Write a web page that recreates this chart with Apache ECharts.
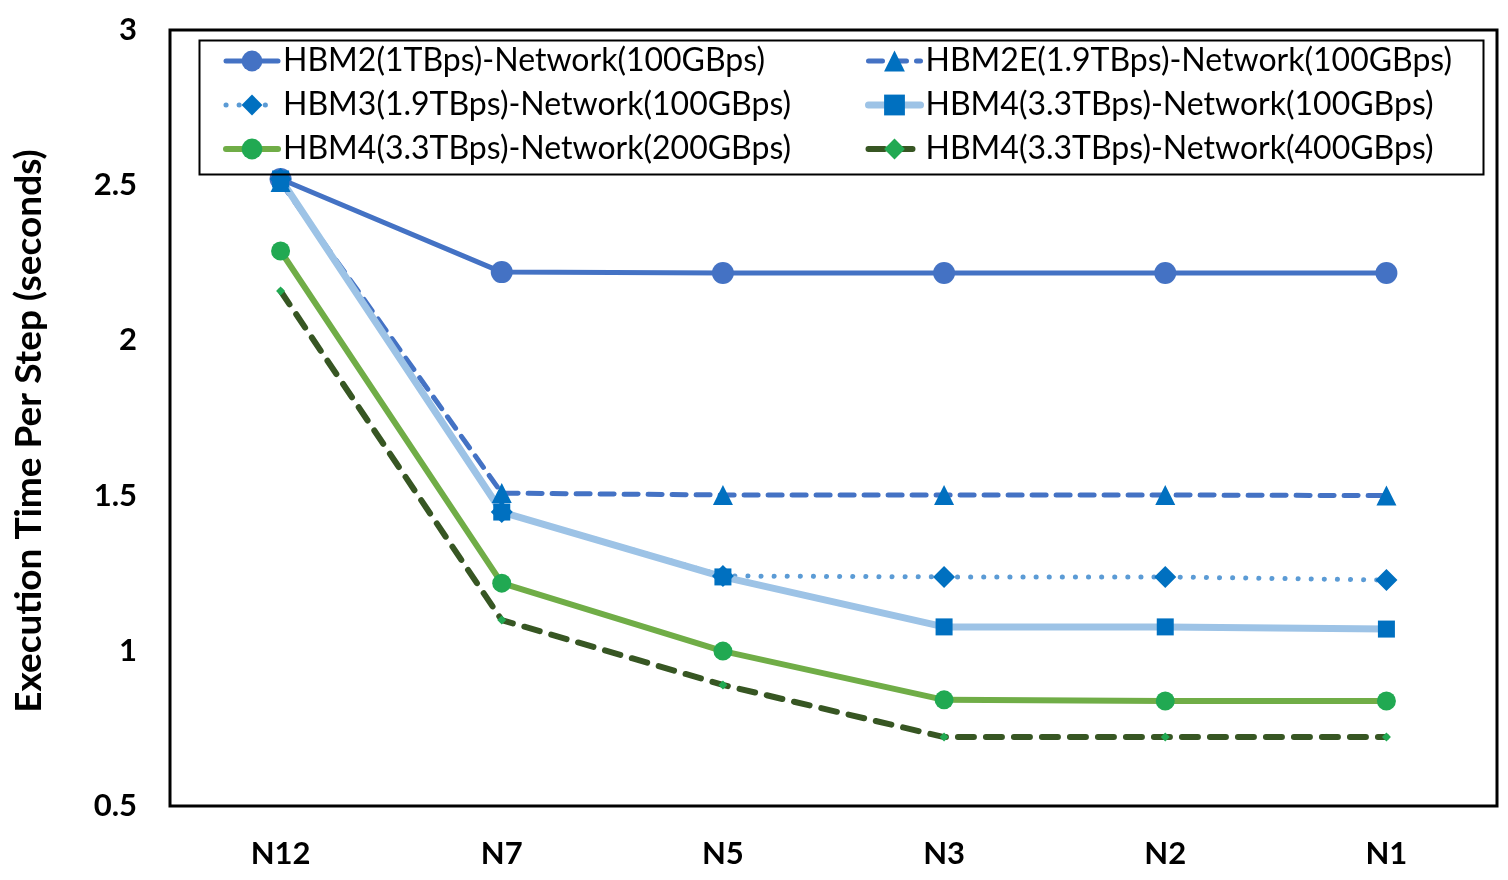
<!DOCTYPE html>
<html>
<head>
<meta charset="utf-8">
<title>Execution time per step</title>
<script src="https://cdn.jsdelivr.net/npm/echarts@6/dist/echarts.min.js"></script>
<style>
  html, body { margin: 0; padding: 0; background: #fff; }
  #chart { width: 1508px; height: 880px; }
</style>
</head>
<body>
<div id="chart"></div>
<script>
// data
const nodes = ['N12', 'N7', 'N5', 'N3', 'N2', 'N1'];
const yTicks = [0.5, 1, 1.5, 2, 2.5, 3];

const hbm2_100 = [2.52, 2.22, 2.217, 2.217, 2.217, 2.217];
const hbm2e_100 = [2.51, 1.508, 1.502, 1.502, 1.502, 1.50];
const hbm3_100 = [2.52, 1.447, 1.241, 1.238, 1.238, 1.228];
const hbm4_100 = [2.52, 1.447, 1.238, 1.077, 1.077, 1.07];
const hbm4_200 = [2.288, 1.218, 0.999, 0.842, 0.838, 0.838];
const hbm4_400 = [2.159, 1.099, 0.89, 0.722, 0.722, 0.722];

const names = [
    'HBM2(1TBps)-Network(100GBps)',
    'HBM2E(1.9TBps)-Network(100GBps)',
    'HBM3(1.9TBps)-Network(100GBps)',
    'HBM4(3.3TBps)-Network(100GBps)',
    'HBM4(3.3TBps)-Network(200GBps)',
    'HBM4(3.3TBps)-Network(400GBps)'
];

(function () {
    const FONT = 'Lato, "Open Sans", sans-serif';
    const chart = echarts.init(document.getElementById('chart'));

    // one line series: line style + marker colour can differ
    function line(name, data, lineStyle, symbol, size, markColor) {
        return {
            name: name, type: 'line', data: data,
            symbol: symbol, symbolSize: size, showSymbol: true,
            itemStyle: { color: markColor },
            lineStyle: lineStyle,
            emphasis: { disabled: true },
            animation: false
        };
    }

    const styles = [
        { lineStyle: { color: '#4472C4', width: 5 }, symbol: 'circle', size: 22, mark: '#4472C4' },
        { lineStyle: { color: '#4472C4', width: 5, type: [14, 10], cap: 'round' }, symbol: 'triangle', size: 20, mark: '#0070C0' },
        { lineStyle: { color: '#5B9BD5', width: 5, type: [0.1, 13], cap: 'round' }, symbol: 'diamond', size: 22, mark: '#0070C0' },
        { lineStyle: { color: '#9DC3E6', width: 7 }, symbol: 'rect', size: 17, mark: '#0070C0' },
        { lineStyle: { color: '#70AD47', width: 6 }, symbol: 'circle', size: 19, mark: '#21A952' },
        { lineStyle: { color: '#375623', width: 6, type: [16, 12], cap: 'round' }, symbol: 'diamond', size: 9, mark: '#21A952' }
    ];
    const seriesData = [hbm2_100, hbm2e_100, hbm3_100, hbm4_100, hbm4_200, hbm4_400];

    const legendText = { fontFamily: FONT, fontSize: 32, color: '#000' };
    function legendItems(idx) {
        return idx.map(i => ({
            name: names[i],
            lineStyle: { width: styles[i].lineStyle.width, type: styles[i].lineStyle.type || 'solid', cap: 'round' }
        }));
    }

    const option = {
        backgroundColor: '#fff',
        grid: { left: 170, right: 11, top: 30, bottom: 74, show: true, borderColor: '#000', borderWidth: 3 },
        legend: [
            {
                data: legendItems([0, 2, 4]),
                orient: 'vertical', left: 218, top: 40,
                itemWidth: 52, itemHeight: 26, itemGap: 12,
                textStyle: legendText
            },
            {
                data: legendItems([1, 3, 5]),
                orient: 'vertical', left: 860, top: 40,
                itemWidth: 52, itemHeight: 26, itemGap: 12,
                textStyle: legendText
            }
        ],
        graphic: [{
            type: 'rect', left: 197, top: 38, z: 100,
            shape: { width: 1284, height: 134 },
            style: { fill: 'none', stroke: '#000', lineWidth: 2 }
        }],
        xAxis: {
            type: 'category', data: nodes, boundaryGap: true,
            axisLine: { show: false }, axisTick: { show: false },
            axisLabel: { margin: 32, fontFamily: FONT, fontSize: 31, fontWeight: 'bold', color: '#000' }
        },
        yAxis: {
            type: 'value', min: yTicks[0], max: yTicks[yTicks.length - 1], interval: 0.5,
            axisLine: { show: false }, axisTick: { show: false }, splitLine: { show: false },
            axisLabel: { margin: 33, fontFamily: FONT, fontSize: 31, fontWeight: 'bold', color: '#000' },
            name: 'Execution Time Per Step (seconds)', nameLocation: 'middle', nameGap: 122,
            nameTextStyle: { fontFamily: FONT, fontSize: 37, fontWeight: 'bold', color: '#000', padding: [0, 26, 0, 0] }
        },
        series: seriesData.map((d, i) => line(names[i], d, styles[i].lineStyle, styles[i].symbol, styles[i].size, styles[i].mark))
    };

    chart.setOption(option);
    window.onresize = () => chart.resize();
})();
</script>
</body>
</html>
